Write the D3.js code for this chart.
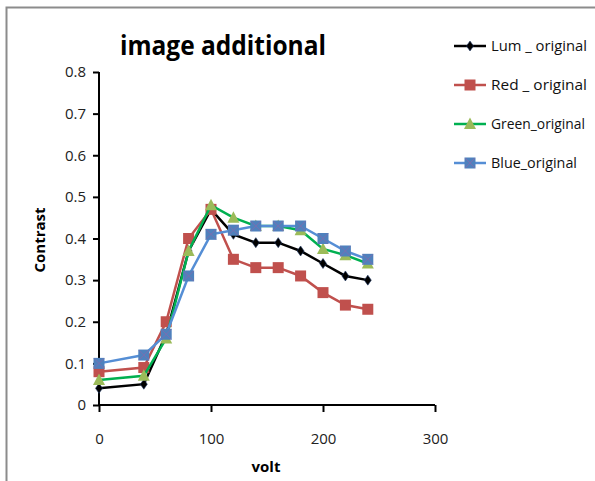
<!DOCTYPE html>
<html>
<head>
<meta charset="utf-8">
<script src="https://cdn.jsdelivr.net/npm/d3@7"></script>
<style>
  html, body { margin: 0; padding: 0; background: #fff; }
  svg { display: block; }
  text { font-family: "Open Sans", "Noto Sans", sans-serif; }
</style>
</head>
<body>
<svg id="chart" width="595" height="481"></svg>
<script>
// Applied voltage (x values shared by all series)
const volts = [0, 40, 60, 80, 100, 120, 140, 160, 180, 200, 220, 240];

// Contrast per channel
const lumValues   = [0.04, 0.05, 0.17, 0.37, 0.47, 0.41, 0.39, 0.39, 0.37, 0.34, 0.31, 0.30];
const redValues   = [0.08, 0.09, 0.20, 0.40, 0.47, 0.35, 0.33, 0.33, 0.31, 0.27, 0.24, 0.23];
const greenValues = [0.06, 0.07, 0.16, 0.37, 0.48, 0.45, 0.43, 0.43, 0.42, 0.375, 0.36, 0.34];
const blueValues  = [0.10, 0.12, 0.17, 0.31, 0.41, 0.42, 0.43, 0.43, 0.43, 0.40, 0.37, 0.35];

const seriesNames = ["Lum _ original", "Red _ original", "Green_original", "Blue_original"];

// Axis ticks
const xTicks = [0, 100, 200, 300];
const yTicks = [0, 0.1, 0.2, 0.3, 0.4, 0.5, 0.6, 0.7, 0.8];

const styles = [
  { line: "#000000", fill: "#000000", marker: "diamond" },
  { line: "#C0504D", fill: "#C0504D", marker: "square" },
  { line: "#00B050", fill: "#9BBB59", marker: "triangle" },
  { line: "#558ED5", fill: "#4F81BD", marker: "xsquare" }
];

const series = [lumValues, redValues, greenValues, blueValues].map((vals, i) => ({
  name: seriesNames[i],
  style: styles[i],
  points: volts.map((v, j) => ({ x: v, y: vals[j] }))
}));

const svg = d3.select("#chart");

// Outer frame (top and left edges only)
svg.append("path")
  .attr("d", "M6.5,481 V7.5 H595")
  .attr("fill", "none")
  .attr("stroke", "#8c8c8c")
  .attr("stroke-width", 2);

const x = d3.scaleLinear().domain([0, 300]).range([99, 435]);
const y = d3.scaleLinear().domain([0, 0.8]).range([405, 72]);

// Axes
const xAxis = svg.append("g")
  .attr("transform", `translate(0,${y(0)})`)
  .call(d3.axisBottom(x).tickValues(xTicks).tickSize(7).tickPadding(21).tickFormat(d3.format("d")));
const yAxis = svg.append("g")
  .attr("transform", `translate(${x(0)},0)`)
  .call(d3.axisLeft(y).tickValues(yTicks).tickSize(6).tickPadding(7).tickFormat(d => d === 0 ? "0" : d3.format(".1f")(d)));

[xAxis, yAxis].forEach(g => {
  g.select(".domain").attr("stroke", "#000").attr("stroke-width", 2);
  g.selectAll(".tick line").attr("stroke", "#000").attr("stroke-width", 2);
  g.selectAll(".tick text")
    .attr("fill", "#222")
    .style("font-size", "15px")
    .style("font-family", "'Open Sans', sans-serif");
});
xAxis.select(".domain").attr("d", `M${x(0)},0H${x(300)}`);
yAxis.select(".domain").attr("d", `M0,${y(0)}V${y(0.8)}`);

// Title and axis labels
svg.append("text")
  .attr("x", 223).attr("y", 55)
  .attr("text-anchor", "middle")
  .attr("textLength", 206).attr("lengthAdjust", "spacingAndGlyphs")
  .style("font-size", "26px").style("font-weight", "bold")
  .text("image additional");

svg.append("text")
  .attr("x", 266).attr("y", 472)
  .attr("text-anchor", "middle")
  .style("font-size", "15px").style("font-weight", "bold")
  .text("volt");

svg.append("text")
  .attr("transform", "translate(45,240) rotate(-90)")
  .attr("text-anchor", "middle")
  .style("font-size", "15px").style("font-weight", "bold")
  .text("Contrast");

// Marker drawing
function drawMarker(g, type, fill) {
  if (type === "diamond") {
    g.append("path").attr("d", "M0,-5L3.5,0L0,5L-3.5,0Z").attr("fill", fill).attr("stroke", "#1F3864").attr("stroke-width", 0.6);
  } else if (type === "square") {
    g.append("rect").attr("x", -5.5).attr("y", -5.5).attr("width", 11).attr("height", 11).attr("fill", fill);
  } else if (type === "triangle") {
    g.append("path").attr("d", "M0,-6.5L6,5L-6,5Z").attr("fill", fill);
  } else if (type === "xsquare") {
    g.append("rect").attr("x", -5.5).attr("y", -5.5).attr("width", 11).attr("height", 11).attr("fill", fill);
    g.append("path").attr("d", "M-5,-5L5,5M5,-5L-5,5").attr("stroke", "#7a6fb0").attr("stroke-width", 1);
  }
}

const line = d3.line().x(d => x(d.x)).y(d => y(d.y));

series.forEach(s => {
  const g = svg.append("g");
  g.append("path")
    .datum(s.points)
    .attr("d", line)
    .attr("fill", "none")
    .attr("stroke", s.style.line)
    .attr("stroke-width", 2.5);
  s.points.forEach(p => {
    drawMarker(g.append("g").attr("transform", `translate(${x(p.x)},${y(p.y)})`), s.style.marker, s.style.fill);
  });
});

// Legend
const legend = svg.append("g");
const legendWidths = [96, 96, 94, 86];
series.forEach((s, i) => {
  const ly = 46 + i * 39;
  const row = legend.append("g").attr("transform", `translate(0,${ly})`);
  row.append("line").attr("x1", 454).attr("x2", 486).attr("y1", 0).attr("y2", 0)
    .attr("stroke", s.style.line).attr("stroke-width", 2.5);
  drawMarker(row.append("g").attr("transform", "translate(470,0)"), s.style.marker, s.style.fill);
  row.append("text")
    .attr("x", 491).attr("y", 0).attr("dy", "0.35em")
    .attr("textLength", legendWidths[i]).attr("lengthAdjust", "spacingAndGlyphs")
    .style("font-size", "14.5px")
    .attr("fill", "#111")
    .text(s.name);
});
</script>
</body>
</html>
